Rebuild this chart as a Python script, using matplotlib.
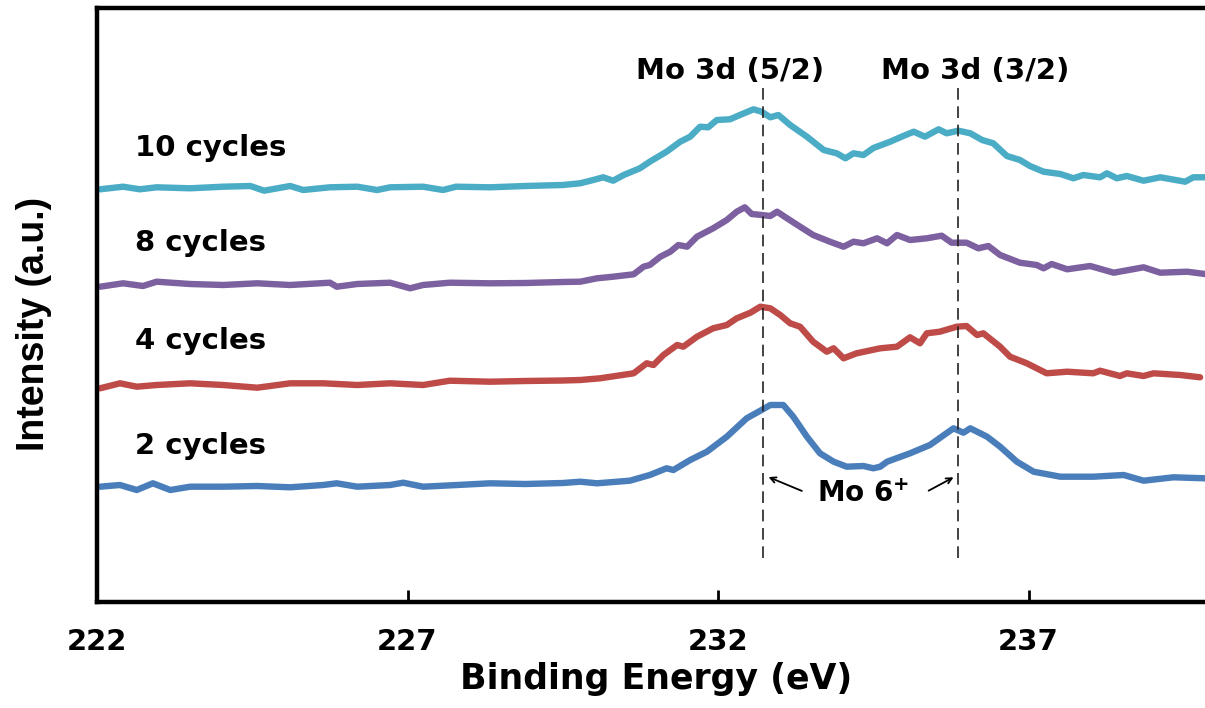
import numpy as np
import matplotlib
matplotlib.use("Agg")
import matplotlib.pyplot as plt

plt.rcParams['font.family'] = ['DejaVu Sans']
plt.rcParams['font.weight'] = 'bold'

# XPS Mo 3d spectra, binding energy (eV) vs intensity (a.u.)
e_2 = [222.05, 222.37, 222.64, 222.90, 223.18, 223.50, 224.03, 224.58, 225.11, 225.64,
       225.86, 226.19, 226.72, 226.93, 227.25, 227.80, 228.33, 228.90, 229.50, 229.78,
       230.05, 230.58, 230.90, 231.17, 231.28, 231.55, 231.82, 232.14, 232.46, 232.70,
       232.84, 233.05, 233.21, 233.43, 233.64, 233.86, 234.07, 234.34, 234.50, 234.61,
       234.72, 235.09, 235.41, 235.79, 235.95, 236.06, 236.33, 236.54, 236.81, 237.08,
       237.51, 238.04, 238.53, 238.85, 239.33, 239.84]
i_2 = [115.3, 117.0, 112.0, 118.7, 112.0, 115.3, 115.3, 116.0, 114.7, 117.0,
       118.7, 115.3, 117.0, 119.3, 115.3, 117.0, 118.7, 118.0, 119.0, 120.3,
       118.7, 121.3, 127.0, 133.7, 132.0, 142.0, 150.3, 165.3, 183.7, 192.0,
       197.0, 197.0, 185.3, 165.3, 148.7, 140.3, 135.3, 136.0, 133.7, 135.3,
       140.3, 148.7, 157.0, 173.7, 169.3, 173.7, 165.3, 155.3, 140.3, 130.3,
       125.3, 125.3, 127.0, 121.3, 124.7, 123.7]

e_4 = [222.05, 222.37, 222.64, 222.96, 223.50, 224.03, 224.58, 225.11, 225.64, 226.19,
       226.72, 227.25, 227.68, 228.33, 228.90, 229.50, 229.78, 230.10, 230.64, 230.85,
       230.96, 231.12, 231.34, 231.44, 231.66, 231.92, 232.14, 232.30, 232.52, 232.68,
       232.84, 233.00, 233.16, 233.32, 233.53, 233.75, 233.86, 234.02, 234.23, 234.61,
       234.88, 235.09, 235.25, 235.36, 235.57, 235.84, 236.00, 236.17, 236.27, 236.54,
       236.70, 236.97, 237.29, 237.62, 238.04, 238.15, 238.47, 238.58, 238.85, 239.01,
       239.44, 239.76]
i_4 = [213.7, 218.7, 215.3, 217.0, 218.7, 217.0, 214.3, 218.7, 218.7, 217.0,
       218.7, 217.0, 221.3, 220.3, 221.0, 221.5, 222.0, 223.7, 228.7, 238.7,
       237.0, 247.0, 257.0, 255.3, 265.3, 273.7, 277.0, 283.7, 289.3, 295.3,
       293.7, 287.0, 278.7, 275.3, 260.3, 250.3, 253.7, 243.7, 248.7, 253.7,
       255.3, 264.7, 258.7, 268.7, 270.3, 275.3, 276.0, 267.0, 268.7, 255.3,
       245.3, 238.7, 228.7, 230.3, 228.7, 231.3, 226.0, 228.7, 226.0, 228.7,
       227.0, 224.7]

e_8 = [222.05, 222.42, 222.74, 222.96, 223.50, 224.03, 224.58, 225.11, 225.75, 225.86,
       226.19, 226.72, 227.04, 227.25, 227.68, 228.33, 228.90, 229.50, 229.78, 230.05,
       230.31, 230.64, 230.80, 230.90, 231.07, 231.23, 231.36, 231.50, 231.66, 231.92,
       232.14, 232.30, 232.43, 232.54, 232.70, 232.84, 232.95, 233.11, 233.32, 233.53,
       233.80, 234.02, 234.18, 234.34, 234.56, 234.72, 234.88, 235.09, 235.36, 235.60,
       235.76, 236.00, 236.19, 236.35, 236.54, 236.86, 237.13, 237.24, 237.37, 237.62,
       237.99, 238.37, 238.85, 239.12, 239.55, 239.84]
i_8 = [315.3, 318.7, 316.0, 320.3, 318.0, 317.0, 318.7, 317.0, 319.3, 315.3,
       318.0, 319.3, 313.7, 317.0, 319.3, 318.7, 319.0, 320.0, 320.3, 323.7,
       325.3, 327.7, 335.3, 337.0, 345.3, 350.3, 357.0, 355.3, 365.3, 373.7,
       382.0, 390.3, 394.7, 388.0, 387.0, 386.0, 390.3, 383.7, 375.3, 367.0,
       360.3, 355.3, 360.3, 358.7, 363.7, 358.7, 367.0, 362.0, 363.7, 366.3,
       359.3, 359.3, 353.7, 356.0, 347.0, 339.3, 337.0, 333.7, 338.0, 332.7,
       336.0, 329.3, 334.7, 329.3, 330.3, 328.0]

e_10 = [222.05, 222.42, 222.69, 222.96, 223.50, 224.03, 224.47, 224.69, 225.11, 225.32,
        225.75, 226.19, 226.51, 226.72, 227.25, 227.57, 227.78, 228.33, 228.90, 229.50,
        229.78, 229.99, 230.15, 230.31, 230.48, 230.74, 230.90, 231.17, 231.39, 231.55,
        231.71, 231.84, 231.98, 232.19, 232.35, 232.57, 232.70, 232.84, 232.97, 233.16,
        233.43, 233.70, 233.91, 234.05, 234.18, 234.34, 234.50, 234.77, 234.98, 235.15,
        235.33, 235.55, 235.68, 235.87, 236.06, 236.25, 236.43, 236.65, 236.86, 237.02,
        237.24, 237.51, 237.72, 237.88, 238.15, 238.26, 238.42, 238.58, 238.85, 239.12,
        239.52, 239.65, 239.84]
i_10 = [412.7, 415.3, 412.7, 414.7, 413.7, 415.3, 416.0, 411.3, 416.0, 412.0,
        414.7, 415.3, 412.0, 414.7, 415.3, 412.0, 415.3, 414.7, 416.0, 417.0,
        418.7, 422.0, 424.7, 421.3, 427.0, 433.7, 440.3, 450.3, 460.3, 465.3,
        475.3, 474.7, 482.0, 482.7, 487.0, 492.7, 490.3, 484.7, 487.0, 477.0,
        465.3, 452.0, 448.7, 443.7, 448.7, 447.0, 454.0, 460.3, 466.0, 470.3,
        465.3, 472.7, 468.7, 471.3, 468.7, 462.0, 458.7, 446.0, 442.0, 436.0,
        430.3, 428.0, 423.7, 427.0, 424.7, 428.7, 423.7, 426.0, 421.3, 424.7,
        420.3, 424.7, 424.7]

series = [("2 cycles", e_2, i_2, "#4A7EBB", 156),
          ("4 cycles", e_4, i_4, "#BE4B48", 261),
          ("8 cycles", e_8, i_8, "#7D60A0", 359),
          ("10 cycles", e_10, i_10, "#4BACC6", 454)]

peak_52 = 232.72
peak_32 = 235.86

fig = plt.figure(figsize=(12.05, 7.08), dpi=100)
ax = fig.add_axes([97 / 1205, 106 / 708, 1118 / 1205, 594 / 708])

for name, e, inten, col, ylab in series:
    ax.plot(e, inten, color=col, lw=4.6, solid_capstyle='round', solid_joinstyle='round')
    ax.text(222.61, ylab, name, fontsize=21, fontweight='bold', va='center', ha='left')

for pk in (peak_52, peak_32):
    ax.plot([pk, pk], [44, 517], color='#222222', lw=1.2, ls=(0, (7, 4)))

ax.text(232.19, 531, "Mo 3d (5/2)", fontsize=21, fontweight='bold', ha='center', va='center')
ax.text(236.14, 531, "Mo 3d (3/2)", fontsize=21, fontweight='bold', ha='center', va='center')

ax.text(234.33, 108, r"Mo 6$^{\mathbf{+}}$", fontsize=20, fontweight='bold', ha='center', va='center')
ax.annotate("", xy=(peak_52 + 0.05, 126), xytext=(233.39, 110),
            arrowprops=dict(arrowstyle='->', color='black', lw=1.3))
ax.annotate("", xy=(peak_32 - 0.03, 126), xytext=(235.35, 110),
            arrowprops=dict(arrowstyle='->', color='black', lw=1.3))

ax.set_xlim(222, 240)
ax.set_ylim(0, 594)
ax.set_xticks([222, 227, 232, 237])
ax.set_yticks([])
ax.tick_params(axis='x', direction='in', length=9, width=2, pad=19, labelsize=21)
for lbl in ax.get_xticklabels():
    lbl.set_fontweight('bold')
for sp in ax.spines.values():
    sp.set_linewidth(3.2)

ax.set_xlabel("Binding Energy (eV)", fontsize=25, fontweight='bold', labelpad=4)
ax.set_ylabel("Intensity (a.u.)", fontsize=27, fontweight='bold',
              family=['Liberation Sans', 'DejaVu Sans'])
ax.yaxis.set_label_coords(-0.040, 0.468)

fig.savefig("out.png", dpi=100)
